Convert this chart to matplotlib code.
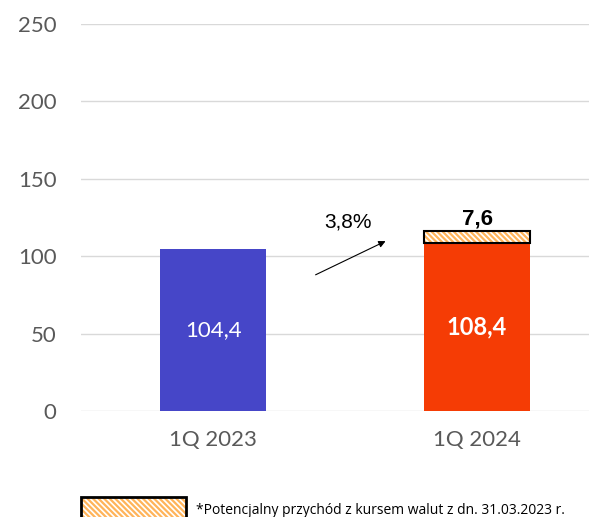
import matplotlib
matplotlib.use("Agg")
import matplotlib.pyplot as plt
from matplotlib.patches import Rectangle

categories = ["1Q 2023", "1Q 2024"]
base_values = [104.4, 108.4]
fx_values = [0.0, 7.6]
base_labels = ["104,4", "108,4"]
fx_label = "7,6"
growth_label = "3,8%"
yticks = [0, 50, 100, 150, 200, 250]
footnote = "*Potencjalny przychód z kursem walut z dn. 31.03.2023 r."

colors = ["#4646C8", "#F53C05"]
hatch_color = "#FFB45A"
plt.rcParams["hatch.linewidth"] = 1.6

W, H = 589, 517
fig = plt.figure(figsize=(W / 100, H / 100), dpi=100)
ax = fig.add_axes([81 / W, (H - 411) / H, (589 - 81) / W, (411 - 24) / H])

x = list(range(len(categories)))
width = 0.40
ax.bar(x, base_values, width=width, color=colors, zorder=3)

# hatched FX segment
ax.bar(x[1], fx_values[1], bottom=base_values[1], width=width, color="white",
       edgecolor=hatch_color, hatch="\\\\\\\\\\\\", linewidth=0, zorder=3)
ax.bar(x[1], fx_values[1], bottom=base_values[1], width=width, fill=False,
       edgecolor="black", linewidth=1.5, zorder=4)

ax.set_xlim(-0.5, 1.424)
ax.set_ylim(0, 250)
ax.set_yticks(yticks)
ax.set_xticks(x)
ax.set_xticklabels(categories)
ax.grid(axis="y", color="#D9D9D9", linewidth=1, zorder=0)
for s in ax.spines.values():
    s.set_visible(False)
ax.tick_params(axis="both", length=0, labelsize=16, labelcolor="#595959")
ax.tick_params(axis="y", pad=17.5)
ax.tick_params(axis="x", pad=14)
for lab in ax.get_xticklabels() + ax.get_yticklabels():
    lab.set_fontfamily("Lato")

# value labels
ax.text(x[0], base_values[0] / 2, base_labels[0], ha="center", va="center",
        color="white", fontsize=16, family="Lato")
ax.text(x[1], base_values[1] / 2, base_labels[1], ha="center", va="center",
        color="white", fontsize=17, fontweight="bold", family="Lato")
ax.text(x[1], base_values[1] + fx_values[1] + 1.5, fx_label, ha="center", va="bottom",
        color="black", fontsize=16, fontweight="bold", family="Liberation Sans")

# growth arrow
ax.annotate("", xy=(0.663, 110.5), xytext=(0.379, 87.2),
            arrowprops=dict(arrowstyle="-|>", color="black", lw=0.8, mutation_scale=10))
ax.text(0.51, 122, growth_label, ha="center", va="center", fontsize=15,
        family="Liberation Sans", color="black")

# legend box for footnote
leg = Rectangle((81 / W, (H - 525) / H), 105 / W, 28 / H, transform=fig.transFigure,
                facecolor="white", edgecolor=hatch_color, hatch="\\\\\\\\\\\\", linewidth=0)
fig.add_artist(leg)
leg2 = Rectangle((81 / W, (H - 525) / H), 105 / W, 28 / H, transform=fig.transFigure,
                 fill=False, edgecolor="black", linewidth=2)
fig.add_artist(leg2)
fig.text(196 / W, (H - 511) / H, footnote, ha="left", va="center", fontsize=10,
         family="Open Sans", color="black")

fig.savefig("out.png", dpi=100)
